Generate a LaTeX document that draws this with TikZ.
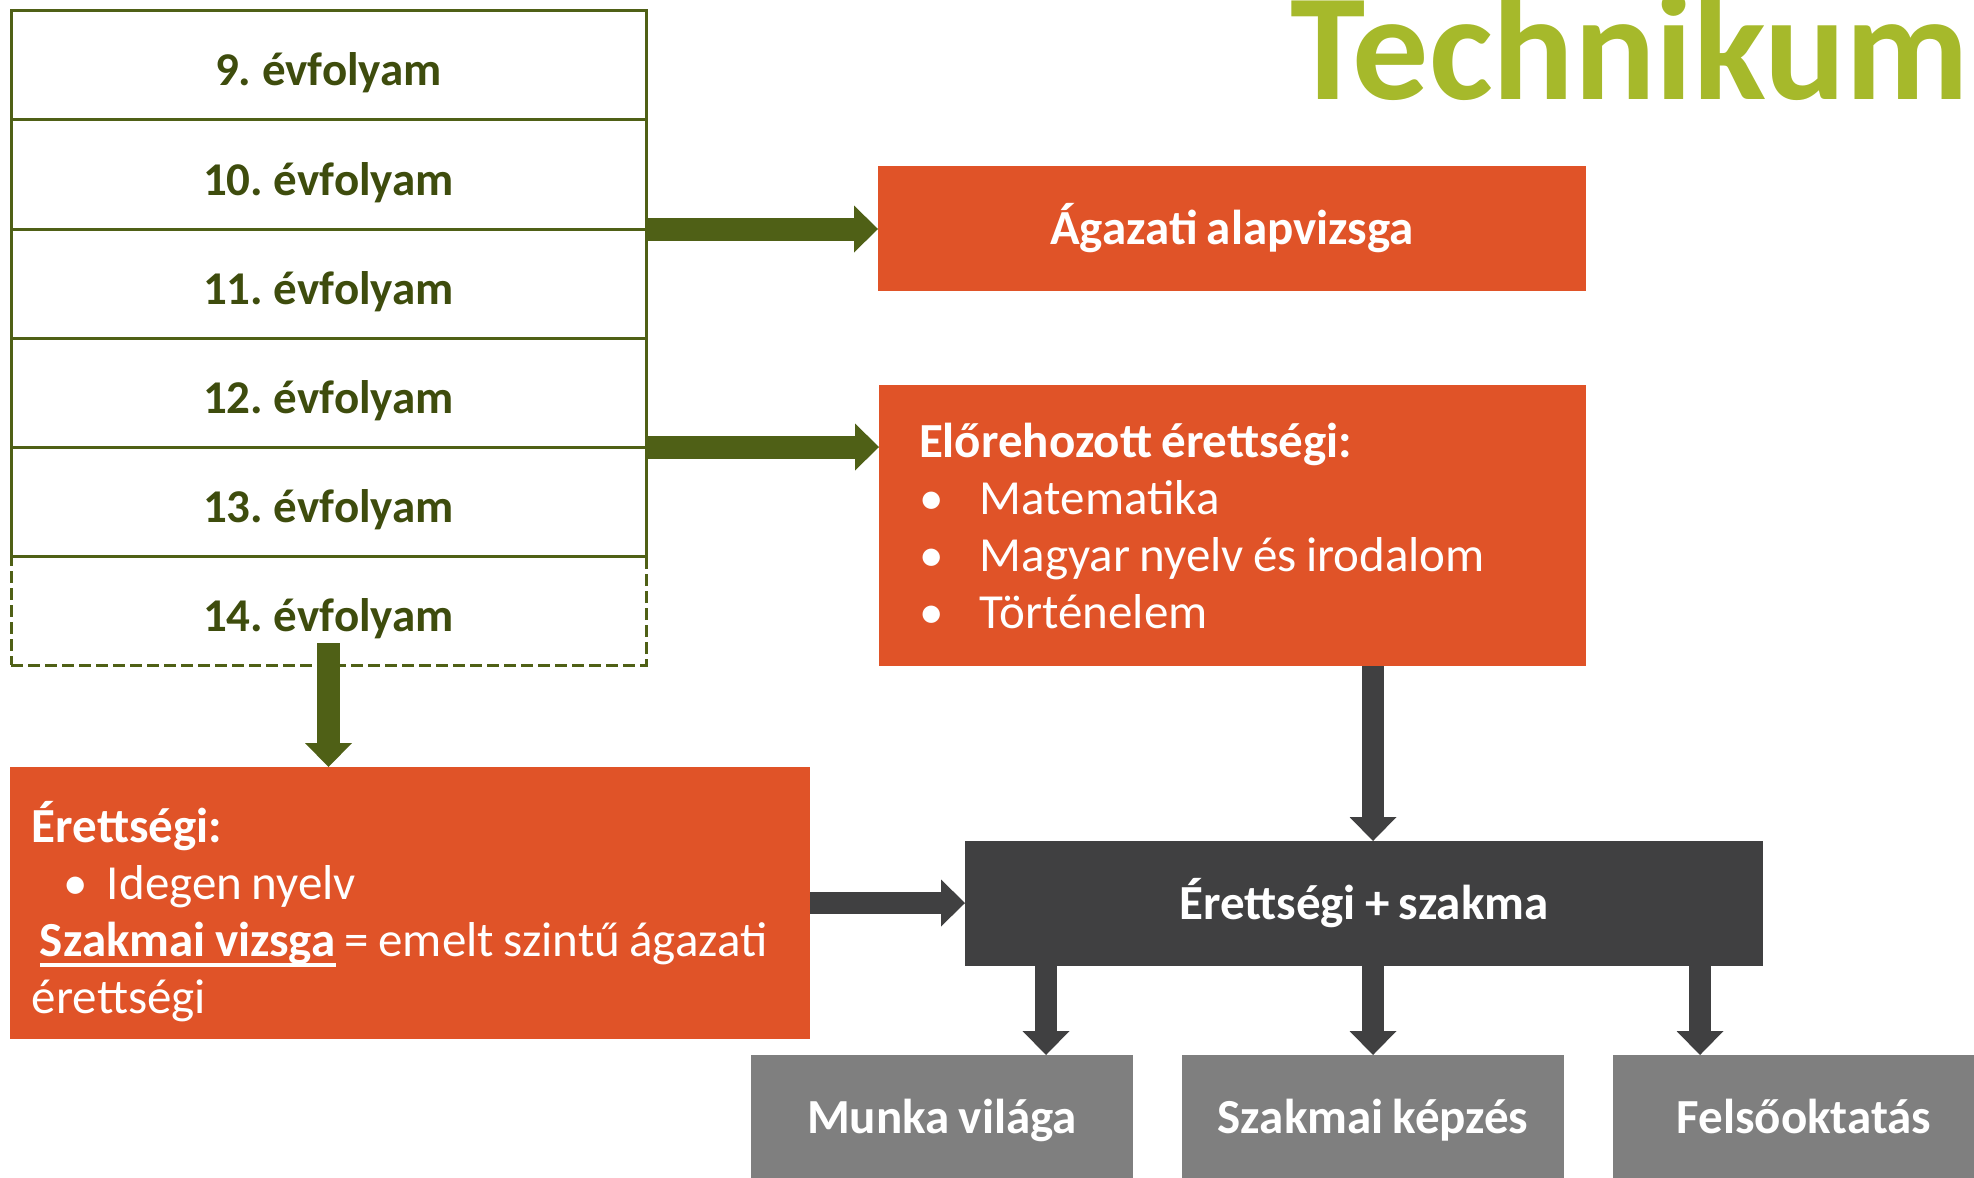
\documentclass[tikz,border=0pt]{standalone}
\usepackage{fontspec}
\setmainfont{Carlito}
\usetikzlibrary{positioning,arrows.meta}
\definecolor{evfline}{HTML}{4F6016}
\definecolor{evftext}{HTML}{3E4C0D}
\definecolor{narancs}{HTML}{E05328}
\definecolor{sotet}{HTML}{404041}
\definecolor{szurke}{HTML}{7F7F7F}
\definecolor{cimzold}{HTML}{A6B92B}
\newcommand{\szokoz}{\frenchspacing\spaceskip=0.19em plus 0.04em minus 0.03em\relax}
\newcommand{\betu}{\fontsize{24.5}{28.5}\selectfont\szokoz}
\newcommand{\evfbetu}{\fontsize{23.5}{28.5}\selectfont\frenchspacing}
\newlength{\alahuzw}
\newcommand{\alahuz}[1]{\settowidth{\alahuzw}{#1}#1\hspace{-\alahuzw}\rule[-5pt]{\alahuzw}{2pt}}

\begin{document}
\begin{tikzpicture}[x=0.5pt,y=-0.5pt,
                    >={Triangle[width=23.5pt,length=12pt,line width=0pt]}]
\tikzstyle{every node}=[font=\betu]
\tikzstyle{evf}=[draw=evfline,line width=1.5pt,outer sep=0pt,minimum width=317.5pt,
                 minimum height=54.5pt,text=evftext,font=\evfbetu\bfseries,
                 text height=22pt,text depth=1.5pt]
\tikzstyle{doboz}=[text=white,outer sep=0pt,minimum height=62.5pt,
                   font=\betu\bfseries,text height=17pt,text depth=1.5pt]
\tikzstyle{szoveg}=[fill=narancs,text=white,outer sep=0pt,align=left,font=\betu,
                    execute at begin node=\szokoz]
\tikzstyle{kimenet}=[doboz,fill=szurke,minimum width=191pt]
\tikzstyle{zoldnyil}=[->,draw=evfline,line width=11.5pt]
\tikzstyle{sotetnyil}=[->,draw=sotet,line width=11pt]
\useasboundingbox (0,0) rectangle (1974,1177);

\node[evf] (e9) at (328.5,65.5) {9. évfolyam};
\node[evf,below=0pt of e9] (e10) {10. évfolyam};
\node[evf,below=0pt of e10] (e11) {11. évfolyam};
\node[evf,below=0pt of e11] (e12) {12. évfolyam};
\node[evf,below=0pt of e12] (e13) {13. évfolyam};
\node[evf,below=0pt of e13,dash pattern=on 6pt off 2.5pt] (e14) {14. évfolyam};

\node[anchor=base west,inner sep=0pt,text=cimzold,
      font=\fontsize{76}{80}\selectfont\bfseries] (cim) at (1290,100) {Technikum};

\node[doboz,fill=narancs,minimum width=354pt] (agazati) at (1232,228.5) {Ágazati alapvizsga};
\node[szoveg,minimum width=353.5pt,minimum height=140.5pt,text width=313.5pt,
      inner xsep=20pt] (elore) at (1232.5,525.5)
  {\textbf{Előrehozott érettségi:}\\
   \makebox[30.5pt][l]{\textbullet}Matematika\\
   \makebox[30.5pt][l]{\textbullet}Magyar nyelv és irodalom\\
   \makebox[30.5pt][l]{\textbullet}Történelem};
\node[szoveg,minimum width=400pt,minimum height=136pt,text width=378pt,
      inner xsep=11pt,inner ysep=0pt] (erettsegi) at (410,903)
  {\rule{0pt}{29.5pt}\textbf{Érettségi:}\\
   \hspace*{16pt}\makebox[21.5pt][l]{\textbullet}Idegen nyelv\\
   \mbox{\hspace*{4pt}\alahuz{\textbf{Szakmai vizsga}} = emelt szintű ágazati}\\
   érettségi};
\node[doboz,fill=sotet,minimum width=399pt] (erszak) at (1364,903.5) {Érettségi + szakma};

\node[kimenet] (munka) at (942,1117.5) {Munka világa};
\node[kimenet,right=24.5pt of munka] (kepzes) {Szakmai képzés};
\node[kimenet,right=24.5pt of kepzes] (felso) {Felsőoktatás};

\draw[zoldnyil] (e10.south east) -- (e10.south east -| agazati.west);
\draw[zoldnyil] (e12.south east) -- (e12.south east -| elore.west);
\draw[zoldnyil] ([yshift=11pt]e14.south) -- (erettsegi.north -| e14.south);
\draw[sotetnyil] (erettsegi.east) -- (erettsegi.east -| erszak.west);
\draw[sotetnyil] (kepzes.north |- elore.south) -- (kepzes.north |- erszak.north);

\coordinate (m1) at ([xshift=52pt]munka.north);
\coordinate (f1) at ([xshift=-52pt]felso.north);
\draw[sotetnyil] (m1 |- erszak.south) -- (m1);
\draw[sotetnyil] (kepzes.north |- erszak.south) -- (kepzes.north);
\draw[sotetnyil] (f1 |- erszak.south) -- (f1);
\end{tikzpicture}
\end{document}
